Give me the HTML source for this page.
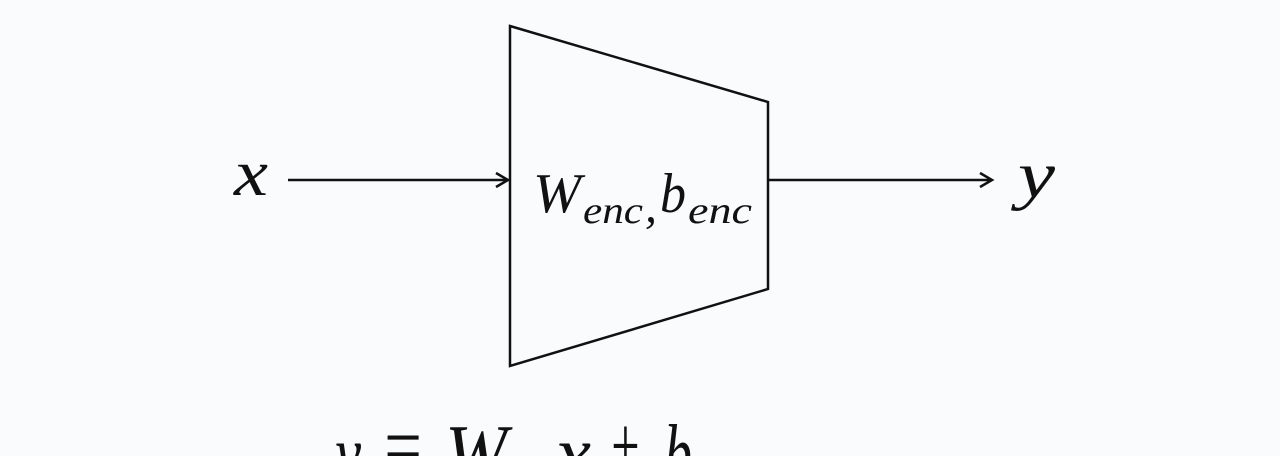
<!DOCTYPE html>
<html><head><style>
html,body{margin:0;padding:0;background:#f9fbfd;}
body{width:1280px;height:456px;overflow:hidden;position:relative;}
svg{position:absolute;left:0;top:0;}
text{font-family:"Liberation Serif",serif;font-style:italic;fill:#111;}
</style></head><body>
<svg width="1280" height="456" viewBox="0 0 1280 456">
<polygon points="510,26 768,102 768,289 510,366" fill="none" stroke="#111" stroke-width="2.5"/>
<line x1="288" y1="180" x2="506" y2="180" stroke="#111" stroke-width="2.5"/>
<path d="M496,173 L508,180 L496,187" fill="none" stroke="#111" stroke-width="2.5"/>
<line x1="768" y1="180" x2="990" y2="180" stroke="#111" stroke-width="2.5"/>
<path d="M980,173 L992,180 L980,187" fill="none" stroke="#111" stroke-width="2.5"/>
<text x="234" y="195" font-size="66" textLength="34" lengthAdjust="spacingAndGlyphs">x</text>
<text x="1018" y="197" font-size="66" textLength="37" lengthAdjust="spacingAndGlyphs">y</text>
<text x="533" y="212" font-size="56" textLength="48" lengthAdjust="spacingAndGlyphs">W</text>
<text x="583" y="223" font-size="38" textLength="60" lengthAdjust="spacingAndGlyphs">enc</text>
<text x="645" y="222" font-size="48">,</text>
<text x="660" y="212" font-size="56" textLength="26" lengthAdjust="spacingAndGlyphs">b</text>
<text x="688" y="223" font-size="38" textLength="64" lengthAdjust="spacingAndGlyphs">enc</text>
<text x="335" y="482" font-size="84" textLength="26" lengthAdjust="spacingAndGlyphs">y</text>
<text x="380" y="474" font-size="84" font-style="normal" textLength="45" lengthAdjust="spacingAndGlyphs">=</text>
<text x="445" y="482" font-size="84" textLength="62" lengthAdjust="spacingAndGlyphs">W</text>
<text x="555" y="482" font-size="84" textLength="36" lengthAdjust="spacingAndGlyphs">x</text>
<text x="608" y="474" font-size="84" font-style="normal" textLength="34" lengthAdjust="spacingAndGlyphs">+</text>
<text x="664" y="482" font-size="84" textLength="28" lengthAdjust="spacingAndGlyphs">b</text>
</svg>
</body></html>
